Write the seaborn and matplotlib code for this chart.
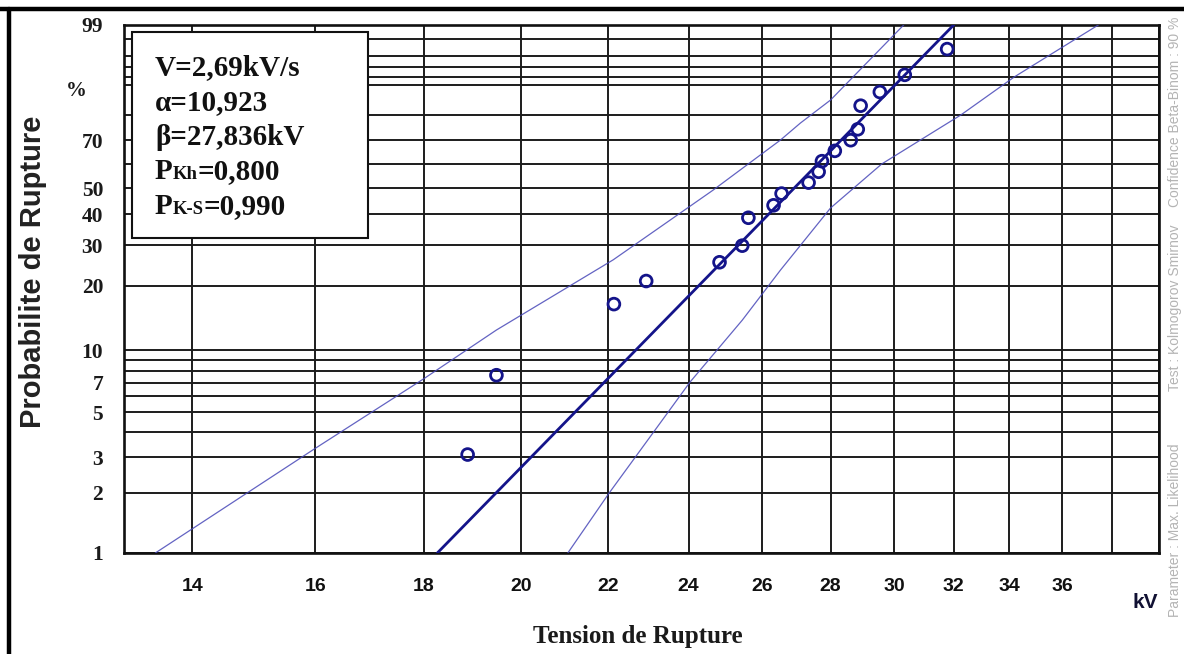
import numpy as np
import matplotlib
matplotlib.use("Agg")
import matplotlib.pyplot as plt
from matplotlib.ticker import FixedLocator, FixedFormatter, NullFormatter
from matplotlib.patches import Rectangle
from matplotlib.lines import Line2D
from matplotlib.offsetbox import TextArea, HPacker, VPacker, AnchoredOffsetbox
import seaborn as sns

# ---- test summary ----
ramp_rate = 2.69          # kV/s
alpha = 10.923            # Weibull shape
beta = 27.836             # Weibull scale, kV
p_kh = 0.800
p_ks = 0.990

# ---- measured breakdown voltages and their plotting positions ----
kv_points = [18.88, 19.48, 22.13, 22.92, 24.82, 25.44, 25.61, 26.32, 26.55, 27.34,
             27.64, 27.74, 28.13, 28.62, 28.84, 28.93, 29.54, 30.35, 31.78]
pct_points = [3.1, 7.6, 16.5, 21.0, 25.4, 29.9, 38.8, 43.3, 47.8, 52.2,
              56.7, 61.2, 65.6, 70.1, 74.6, 83.5, 87.9, 92.4, 96.9]

# ---- 90 % confidence bounds ----
upper_kv = [13.45, 16.01, 18.0, 19.48, 22.11, 24.65, 26.52, 27.10, 28.0, 30.32]
upper_pct = [1.0, 3.34, 7.3, 12.5, 26.0, 49.2, 70.2, 77.1, 85.4, 99.0]
lower_kv = [21.05, 22.02, 24.04, 25.44, 26.52, 28.0, 29.6, 32.26, 34.18, 37.46]
lower_pct = [1.0, 2.0, 7.05, 13.9, 23.5, 42.3, 60.0, 80.2, 91.9, 99.0]

# ---- axis ticks ----
x_ticks = [14, 16, 18, 20, 22, 24, 26, 28, 30, 32, 34, 36, 38, 40]
x_labels = ["14", "16", "18", "20", "22", "24", "26", "28", "30", "32", "34", "36", "", ""]
y_major = [1, 2, 3, 5, 7, 10, 20, 30, 40, 50, 70, 99]
y_major_labels = ["1", "2", "3", "5", "7", "10", "20", "30", "40", "50", "70", "99"]
y_minor = [4, 6, 8, 9, 60, 80, 90, 92, 94, 96, 98]

W, H = 1184, 654
DPI = 100

sns.set_style("white")
plt.rcParams["font.family"] = ["Liberation Sans", "DejaVu Sans"]

fig = plt.figure(figsize=(W / DPI, H / DPI), dpi=DPI, facecolor="white")
ax = fig.add_axes([124 / W, 1 - 553 / H, (1159 - 124) / W, (553 - 24.8) / H])


def weibull_fwd(p):
    p = np.clip(np.asarray(p, dtype=float), 1e-9, 100 - 1e-9)
    return np.log(-np.log(1 - p / 100.0))


def weibull_inv(y):
    return 100.0 * (1 - np.exp(-np.exp(np.asarray(y, dtype=float))))


ax.set_xscale("log")
ax.set_yscale("function", functions=(weibull_fwd, weibull_inv))
ax.set_xlim(13, 40)
ax.set_ylim(1, 99)

# grid and ticks
ax.xaxis.set_major_locator(FixedLocator(x_ticks))
ax.xaxis.set_major_formatter(FixedFormatter(x_labels))
ax.xaxis.set_minor_locator(FixedLocator([]))
ax.xaxis.set_minor_formatter(NullFormatter())
ax.yaxis.set_major_locator(FixedLocator(y_major))
ax.yaxis.set_major_formatter(FixedFormatter(y_major_labels))
ax.yaxis.set_minor_locator(FixedLocator(y_minor))
ax.yaxis.set_minor_formatter(NullFormatter())

ax.grid(True, which="both", color="#1c1c1c", linewidth=1.4)
ax.set_axisbelow(True)
for s in ax.spines.values():
    s.set_color("#111111")
    s.set_linewidth(1.9)

ax.tick_params(axis="x", which="major", direction="out", length=12, width=1.3,
               color="#444444", pad=6, labelsize=14, labelcolor="#111111")
ax.tick_params(axis="y", which="major", direction="out", length=10, width=1.3,
               color="#333333", pad=5, labelsize=15.5, labelcolor="#1a1a1a")
ax.tick_params(axis="y", which="minor", direction="out", length=4, width=1.2,
               color="#333333")
for lab in ax.get_xticklabels():
    lab.set_fontweight("bold")
    lab.set_family(["Liberation Sans", "DejaVu Sans"])
for lab in ax.get_yticklabels():
    lab.set_fontweight("bold")
    lab.set_family(["Liberation Serif", "DejaVu Serif"])

# fitted Weibull line from the shape / scale parameters
x_lo = beta * (-np.log(0.99)) ** (1 / alpha)
x_hi = beta * (-np.log(0.01)) ** (1 / alpha)
fit_kv = np.geomspace(x_lo, x_hi, 60)
fit_pct = 100 * (1 - np.exp(-(fit_kv / beta) ** alpha))

band_color = "#4848b8"
sns.lineplot(x=upper_kv, y=upper_pct, ax=ax, color=band_color, linewidth=0.9,
             alpha=0.85, sort=False, zorder=3)
sns.lineplot(x=lower_kv, y=lower_pct, ax=ax, color=band_color, linewidth=0.9,
             alpha=0.85, sort=False, zorder=3)
sns.lineplot(x=fit_kv, y=fit_pct, ax=ax, color="#14148a", linewidth=2.0,
             sort=False, zorder=4)
sns.scatterplot(x=kv_points, y=pct_points, ax=ax, marker="o", s=72,
                facecolor="none", edgecolor="#14148a", linewidth=2.0, zorder=5)

ax.set_xlabel("")
ax.set_ylabel("")
ax.set_xlim(13, 40)
ax.set_ylim(1, 99)

# percent sign beside the upper y ticks
ax.text(-0.046, 88.2, "%", transform=ax.get_yaxis_transform(),
        ha="center", va="center", fontsize=15, fontweight="bold",
        family=["Liberation Serif", "DejaVu Serif"], color="#1a1a1a")

# axis titles
fig.text(33 / W, 1 - 272 / H, "Probabilite de Rupture", rotation=90,
         ha="center", va="center", fontsize=21, fontweight="bold", color="#222222")
fig.text(638 / W, 1 - 636 / H, "Tension de Rupture", ha="center", va="center",
         fontsize=18, fontweight="bold", family=["Liberation Serif", "DejaVu Serif"],
         color="#1a1a1a")
fig.text(1145 / W, 1 - 602 / H, "kV", ha="center", va="center",
         fontsize=15, fontweight="bold", color="#111133")

# method notes on the right margin
note_kw = dict(rotation=90, ha="center", va="center", fontsize=10, color="#b4b4b4")
fig.text(1175 / W, 1 - 530 / H, "Parameter : Max. Likelihood", **note_kw)
fig.text(1175 / W, 1 - 308 / H, "Test : Kolmogorov Smirnov", **note_kw)
fig.text(1175 / W, 1 - 112 / H, "Confidence Beta-Binom : 90 %", **note_kw)

# parameter box
fig.add_artist(Rectangle((132 / W, 1 - 238 / H), 236 / W, 206 / H,
                         transform=fig.transFigure, facecolor="white",
                         edgecolor="#111111", linewidth=1.5, zorder=6))


def fmt(v, nd):
    return f"{v:.{nd}f}".replace(".", ",")


main = dict(family=["Liberation Serif", "DejaVu Serif"], fontweight="bold",
            fontsize=21, color="#111111")
sub = dict(family=["Liberation Serif", "DejaVu Serif"], fontweight="bold",
           fontsize=13.5, color="#111111")
rows = [
    [(f"V={fmt(ramp_rate, 2)}kV/s", main)],
    [(f"α={fmt(alpha, 3)}", main)],
    [(f"β={fmt(beta, 3)}kV", main)],
    [("P", main), ("Kh", sub), (f"={fmt(p_kh, 3)}", main)],
    [("P", main), ("K-S", sub), (f"={fmt(p_ks, 3)}", main)],
]
packed_rows = [HPacker(children=[TextArea(t, textprops=p) for t, p in r],
                       align="baseline", pad=0, sep=0) for r in rows]
vbox = VPacker(children=packed_rows, align="left", pad=0, sep=5.6)
anch = AnchoredOffsetbox(loc="upper left", child=vbox, pad=0, borderpad=0,
                         frameon=False, bbox_to_anchor=(155 / W, 1 - 54 / H),
                         bbox_transform=fig.transFigure)
anch.set_zorder(7)
fig.add_artist(anch)

# outer frame along the top and left edges
fig.add_artist(Line2D([0, 1], [1 - 8.5 / H, 1 - 8.5 / H], transform=fig.transFigure,
                      color="black", linewidth=3.2, zorder=8))
fig.add_artist(Line2D([8.5 / W, 8.5 / W], [0, 1 - 8.5 / H], transform=fig.transFigure,
                      color="black", linewidth=3.2, zorder=8))

fig.savefig("out.png", dpi=DPI, facecolor="white")
